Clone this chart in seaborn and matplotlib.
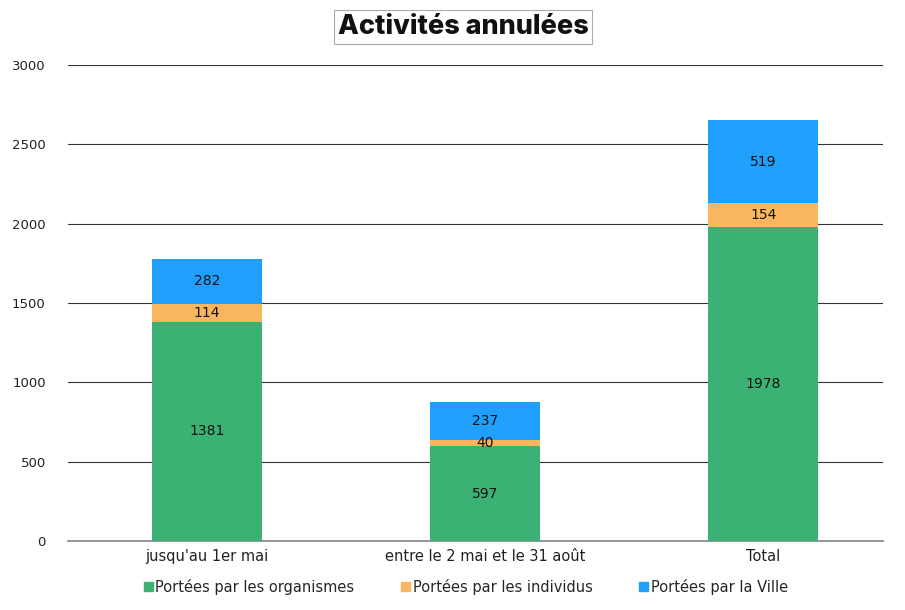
import pandas as pd
import numpy as np
import matplotlib
matplotlib.use('Agg')
import matplotlib.pyplot as plt
import seaborn as sns

# ── Data ──────────────────────────────────────────────
periods = ["jusqu'au 1er mai", "entre le 2 mai et le 31 août", "Total"]
organismes = [1381, 597, 1978]
individus = [114, 40, 154]
ville = [282, 237, 519]
series_names = ["Portées par les organismes", "Portées par les individus", "Portées par la Ville"]
colors = ["#3BB273", "#F9B65E", "#1EA0FC"]

sns.set_theme(style="white")
plt.rcParams['font.family'] = ['DejaVu Sans']

df = pd.DataFrame({"period": periods, "org": organismes, "ind": individus, "ville": ville})
df["c1"] = df["org"]
df["c2"] = df["org"] + df["ind"]
df["c3"] = df["c2"] + df["ville"]

fig = plt.figure(figsize=(9.05, 6.1), dpi=100)
ax = fig.add_axes([68/905, 69/610, 815/905, 476/610])

# stacked look: draw cumulative heights back to front
for col, color in zip(["c3", "c2", "c1"], colors[::-1]):
    sns.barplot(data=df, x="period", y=col, color=color, width=0.396,
                saturation=1, linewidth=0, ax=ax, zorder=3)

ax.set_xlim(-0.5, 2.43)
ax.set_ylim(0, 3000)
ax.set_yticks(range(0, 3001, 500))
ax.yaxis.grid(True, color="#333333", linewidth=0.8, zorder=0)
ax.set_axisbelow(True)
for s in ["top", "right", "left"]:
    ax.spines[s].set_visible(False)
ax.spines["bottom"].set_color("#888888")
ax.spines["bottom"].set_zorder(1)
ax.tick_params(axis="both", length=0)
ax.tick_params(axis="y", labelsize=9.5, pad=16, colors="#222222")
ax.tick_params(axis="x", labelsize=10.5, pad=6, colors="#222222")
ax.set_xlabel("")
ax.set_ylabel("")

# segment labels
for i in range(len(periods)):
    segs = [(0, organismes[i]), (organismes[i], individus[i]),
            (organismes[i] + individus[i], ville[i])]
    for base, h in segs:
        ax.text(i, base + h / 2, str(h), ha="center", va="center",
                fontsize=10, color="#111111", zorder=5)

# title in a box
fig.text(463/905, 1 - 27/610, "Activités annulées", ha="center", va="center",
         fontsize=19.5, fontweight="heavy", family=["Inter", "DejaVu Sans"],
         color="#111111",
         bbox=dict(facecolor="white", edgecolor="#AAAAAA", linewidth=0.8, pad=3))

# legend
handles = [plt.Rectangle((0, 0), 1, 1, color=c) for c in colors]
fig.legend(handles, series_names, loc="center", bbox_to_anchor=(466/905, 1 - 587/610),
           ncol=3, frameon=False, fontsize=10.5, handlelength=0.6, handleheight=0.6,
           handletextpad=0.2, columnspacing=3.2)

fig.savefig("out.png", dpi=100)
